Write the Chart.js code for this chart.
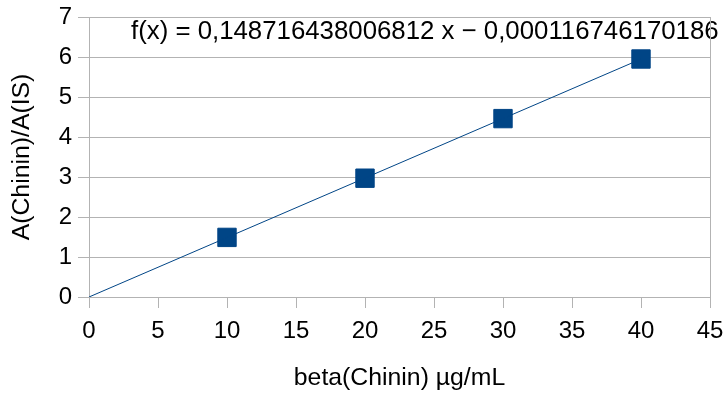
<!DOCTYPE html>
<html>
<head>
<meta charset="utf-8">
<script src="https://cdn.jsdelivr.net/npm/chart.js@4"></script>
<style>
  html, body { margin: 0; padding: 0; background: #fff; }
  #wrap { width: 725px; height: 396px; }
</style>
</head>
<body>
<div id="wrap"><canvas id="graph"></canvas></div>
<script>
// measured points
const conc = [10, 20, 30, 40];
const ratio = [1.49, 2.97, 4.46, 5.95];

// trendline as given in the chart label
const slope = 0.148716438006812;
const intercept = -0.000116746170186;
const trendX = [0, 40];
const equationText = 'f(x) = 0,148716438006812 x \u2212 0,000116746170186';

const blue = '#004586';
const gridGray = '#b3b3b3';
const font = 'Liberation Sans';

const equationLabel = {
    id: 'equationLabel',
    afterDraw(chart) {
        const ctx = chart.ctx;
        ctx.save();
        ctx.font = '25.8px "Liberation Sans"';
        ctx.fillStyle = '#000';
        ctx.textBaseline = 'middle';
        ctx.fillText(equationText, 131, 32);
        // right frame line
        const a = chart.chartArea;
        ctx.strokeStyle = gridGray;
        ctx.lineWidth = 1;
        ctx.beginPath();
        ctx.moveTo(Math.round(a.right) + 0.5, a.top);
        ctx.lineTo(Math.round(a.right) + 0.5, a.bottom);
        ctx.stroke();
        ctx.restore();
    }
};

const config = {
    type: 'scatter',
    data: {
        datasets: [
            {
                label: 'Trend',
                type: 'line',
                data: trendX.map(x => ({ x: x, y: slope * x + intercept })),
                borderColor: blue,
                borderWidth: 1,
                pointRadius: 0,
                fill: false
            },
            {
                label: 'Chinin',
                data: conc.map((x, i) => ({ x: x, y: ratio[i] })),
                pointStyle: 'rect',
                pointRadius: 13,
                backgroundColor: blue,
                borderColor: blue,
                borderWidth: 1
            }
        ]
    },
    options: {
        responsive: false,
        animation: false,
        layout: { padding: { top: 17, right: 15, left: 0, bottom: 0 } },
        plugins: {
            legend: { display: false },
            tooltip: { enabled: false }
        },
        scales: {
            x: {
                type: 'linear',
                min: 0,
                max: 45,
                ticks: { stepSize: 5, color: '#000', padding: 9, font: { family: font, size: 24 } },
                grid: { drawOnChartArea: false, color: gridGray, tickLength: 11 },
                border: { color: gridGray },
                title: {
                    display: true,
                    text: 'beta(Chinin) µg/mL',
                    color: '#000',
                    font: { family: font, size: 24.8 },
                    padding: { top: 0, bottom: 3 }
                },
                afterFit: s => { s.height = 99; s.paddingLeft = 0; s.paddingRight = 0; }
            },
            y: {
                min: 0,
                max: 7,
                ticks: { stepSize: 1, color: '#000', padding: 6, font: { family: font, size: 24 } },
                grid: { color: gridGray, tickLength: 11 },
                border: { color: gridGray },
                title: {
                    display: true,
                    text: 'A(Chinin)/A(IS)',
                    color: '#000',
                    font: { family: font, size: 24.8 },
                    padding: { top: 7, bottom: 0 }
                },
                afterFit: s => { s.width = 89; s.paddingTop = 0; s.paddingBottom = 0; }
            }
        }
    },
    plugins: [equationLabel]
};

const canvas = document.getElementById('graph');
canvas.width = 725;
canvas.height = 396;
const myChart = new Chart(canvas, config);
</script>
</body>
</html>
